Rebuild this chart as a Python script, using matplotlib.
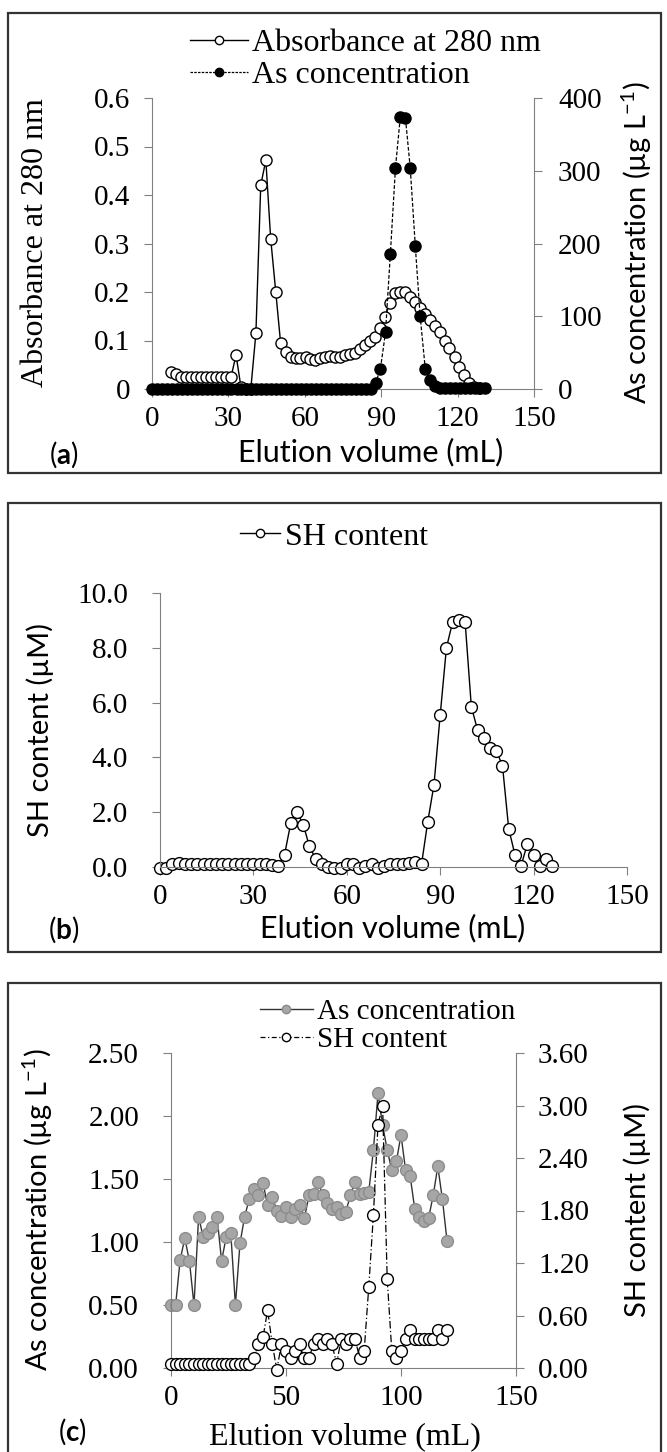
import matplotlib
matplotlib.use("Agg")
import matplotlib.pyplot as plt
from matplotlib.lines import Line2D
from matplotlib.patches import Rectangle
from matplotlib.ticker import FuncFormatter

SERIF = ["Liberation Serif", "DejaVu Serif"]
SANS = ["Lato", "DejaVu Sans"]
plt.rcParams["font.family"] = SERIF
plt.rcParams["mathtext.fontset"] = "custom"
plt.rcParams["mathtext.rm"] = "Lato"
plt.rcParams["mathtext.it"] = "Lato:italic"
plt.rcParams["mathtext.bf"] = "Lato:bold"

# ---- panel (a): absorbance and As concentration ----
vol_abs = [7.6, 9.6, 11.5, 13.5, 15.4, 17.4, 19.3, 21.3, 23.2, 25.2, 27.1, 29.1, 31.0,
           33.0, 34.9, 36.9, 38.8, 40.8, 42.7, 44.7, 46.6, 48.6, 50.5, 52.5, 54.4, 56.4,
           58.3, 60.3, 62.2, 64.2, 66.1, 68.1, 70.0, 72.0, 73.9, 75.9, 77.8, 79.8, 81.7,
           83.7, 85.6, 87.6, 89.5, 91.5, 93.4, 95.4, 97.3, 99.3, 101.2, 103.2, 105.1,
           107.1, 109.0, 111.0, 112.9, 114.9, 116.8, 118.8, 120.7, 122.7, 124.6, 126.6,
           128.5]
absorbance = [0.035, 0.030, 0.025, 0.024, 0.024, 0.024, 0.024, 0.024, 0.024, 0.024,
              0.024, 0.024, 0.024, 0.070, 0.005, 0.000, 0.000, 0.115, 0.420, 0.472,
              0.310, 0.200, 0.095, 0.077, 0.066, 0.064, 0.064, 0.065, 0.062, 0.060,
              0.064, 0.067, 0.068, 0.066, 0.065, 0.070, 0.072, 0.075, 0.082, 0.090,
              0.098, 0.108, 0.125, 0.148, 0.178, 0.197, 0.200, 0.200, 0.190, 0.180,
              0.168, 0.155, 0.143, 0.130, 0.117, 0.100, 0.085, 0.066, 0.045, 0.028,
              0.013, 0.005, 0.003]
vol_as = [0.0, 2.0, 3.9, 5.9, 7.8, 9.8, 11.7, 13.7, 15.6, 17.6, 19.5, 21.5, 23.4, 25.4,
          27.3, 29.3, 31.2, 33.2, 35.1, 37.1, 39.0, 41.0, 42.9, 44.9, 46.8, 48.8, 50.7,
          52.7, 54.6, 56.6, 58.5, 60.5, 62.4, 64.4, 66.3, 68.3, 70.2, 72.2, 74.1, 76.1,
          78.0, 80.0, 81.9, 83.9, 85.8, 87.8, 89.7, 91.7, 93.6, 95.6, 97.5, 99.5, 101.4,
          103.4, 105.3, 107.3, 109.2, 111.2, 113.1, 115.1, 117.0, 119.0, 120.9, 122.9,
          124.8, 126.8, 128.7, 130.7]
as_conc = [0, 0, 0, 0, 0, 0, 0, 0, 0, 0, 0, 0, 0, 0, 0, 0, 0, 0, 0, 0, 0, 0, 0, 0, 0,
           0, 0, 0, 0, 0, 0, 0, 0, 0, 0, 0, 0, 0, 0, 0, 0, 0, 0, 0, 0,
           8, 28, 78, 186, 304, 374, 373, 304, 196, 100, 28, 12, 4,
           1, 1, 1, 1, 1, 1, 1, 1, 1, 1]

# ---- panel (b): SH content ----
vol_sh = [0, 2, 4, 6, 8, 10, 12, 14, 16, 18, 20, 22, 24, 26, 28, 30, 32, 34, 36, 38,
          40, 42, 44, 46, 48, 50, 52, 54, 56, 58, 60, 62, 64, 66, 68, 70, 72, 74, 76,
          78, 80, 82, 84, 86, 88, 90, 92, 94, 96, 98, 100, 102, 104, 106, 108, 110,
          112, 114, 116, 118, 120, 122, 124, 126]
sh_content = [-0.05, -0.05, 0.12, 0.13, 0.10, 0.12, 0.10, 0.12, 0.10, 0.12, 0.10, 0.12,
              0.10, 0.12, 0.10, 0.12, 0.10, 0.10, 0.08, 0.05, 0.45, 1.60, 2.00, 1.55,
              0.75, 0.30, 0.10, 0.00, -0.05, -0.05, 0.10, 0.10, -0.05, 0.05, 0.10,
              -0.05, 0.05, 0.10, 0.12, 0.10, 0.15, 0.18, 0.10, 1.65, 3.00, 5.55, 8.00,
              8.95, 9.00, 8.95, 5.85, 5.00, 4.70, 4.35, 4.25, 3.70, 1.40, 0.45, 0.05,
              0.85, 0.45, 0.05, 0.30, 0.05]

# ---- panel (c): As concentration and SH content ----
vol_c = [0, 2, 4, 6, 8, 10, 12, 14, 16, 18, 20, 22, 24, 26, 28, 30, 32, 34, 36, 38, 40,
         42, 44, 46, 48, 50, 52, 54, 56, 58, 60, 62, 64, 66, 68, 70, 72, 74, 76, 78, 80,
         82, 84, 86, 88, 90, 92, 94, 96, 98, 100, 102, 104, 106, 108, 110, 112, 114,
         116, 118, 120]
as_c = [0.50, 0.50, 0.86, 1.03, 0.85, 0.50, 1.20, 1.04, 1.07, 1.12, 1.20, 0.85, 1.04,
        1.07, 0.50, 0.99, 1.20, 1.34, 1.42, 1.37, 1.47, 1.29, 1.36, 1.25, 1.21, 1.28,
        1.20, 1.26, 1.29, 1.19, 1.37, 1.38, 1.48, 1.37, 1.31, 1.26, 1.28, 1.22, 1.24,
        1.37, 1.48, 1.38, 1.39, 1.40, 1.73, 2.18, 1.93, 1.73, 1.57, 1.64, 1.85, 1.57,
        1.52, 1.26, 1.20, 1.17, 1.19, 1.37, 1.60, 1.34, 1.01]
sh_c = [0.05, 0.05, 0.05, 0.05, 0.05, 0.05, 0.05, 0.05, 0.05, 0.05, 0.05, 0.05, 0.05,
        0.05, 0.05, 0.05, 0.05, 0.05, 0.12, 0.27, 0.35, 0.66, 0.28, -0.02, 0.27, 0.20,
        0.12, 0.20, 0.27, 0.12, 0.12, 0.27, 0.33, 0.27, 0.33, 0.27, 0.05, 0.33, 0.27,
        0.33, 0.33, 0.12, 0.20, 0.93, 1.75, 2.78, 3.00, 1.02, 0.19, 0.12, 0.20, 0.33,
        0.43, 0.33, 0.33, 0.33, 0.33, 0.33, 0.43, 0.33, 0.43]

W, H = 667, 1452
fig = plt.figure(figsize=(W / 100, H / 100), dpi=100)
AXC = "#808080"
PT = 0.72  # points per pixel at 100 dpi


def box(l, t, r, b):
    return [l / W, 1 - b / H, (r - l) / W, (b - t) / H]


def fx(x):
    return x / W


def fy(y):
    return 1 - y / H


def frame(t, b):
    fig.patches.append(Rectangle((fx(8), fy(b)), fx(653), (b - t) / H, fill=False,
                                 edgecolor="#333333", lw=1.6, transform=fig.transFigure))


def style(ax, ypad, right=False):
    for s in ax.spines.values():
        s.set_visible(False)
    side = "right" if right else "left"
    ax.spines[side].set_visible(True)
    ax.spines[side].set_color(AXC)
    if not right:
        ax.spines["bottom"].set_visible(True)
        ax.spines["bottom"].set_color(AXC)
        ax.tick_params(axis="x", direction="out", length=8 * PT, color=AXC,
                       labelsize=21, pad=9 * PT)
    ax.tick_params(axis="y", direction="out", length=8 * PT, color=AXC,
                   labelsize=21, pad=ypad * PT)
    ax.patch.set_visible(False)


def fmt(f):
    return FuncFormatter(lambda v, p: f(v))


def key(x, y, handle, label, size, hl=1.8):
    fig.legend(handles=[handle], labels=[label], loc="center left",
               bbox_to_anchor=(fx(x), fy(y)), frameon=False, fontsize=size,
               handlelength=hl, handletextpad=0.15, borderpad=0, borderaxespad=0)


# ================= (a) =================
frame(13, 473)
ax1 = fig.add_axes(box(152, 98, 534, 389))
style(ax1, 14)
ax1.set_xlim(0, 150)
ax1.set_ylim(0, 0.6)
ax1.set_xticks([0, 30, 60, 90, 120, 150])
ax1.set_yticks([0, 0.1, 0.2, 0.3, 0.4, 0.5, 0.6])
ax1.yaxis.set_major_formatter(fmt(lambda v: "%g" % round(v, 2)))
ax1.plot(vol_abs, absorbance, color="k", lw=1, marker="o", ms=8, mfc="white",
         mec="k", mew=1, clip_on=False)
ax2 = ax1.twinx()
style(ax2, 16, right=True)
ax2.set_ylim(0, 400)
ax2.set_yticks([0, 100, 200, 300, 400])
ax2.plot(vol_as, as_conc, color="k", lw=0.9, ls=(0, (3, 1.5)), marker="o", ms=8,
         mfc="k", mec="k", clip_on=False)

key(190, 43, Line2D([], [], color="k", lw=1, marker="o", ms=6, mfc="white", mec="k"),
    "Absorbance at 280 nm", 23)
key(190, 75, Line2D([], [], color="k", lw=0.9, ls=(0, (2, 1)), marker="o", ms=6,
                    mfc="k"), "As concentration", 23)

fig.text(fx(36), fy(243), "Absorbance at 280 nm", rotation=90, ha="center",
         va="center", fontsize=23)
fig.text(fx(637), fy(243), "As concentration (µg L$^{\\mathregular{-1}}$)",
         rotation=90, ha="center", va="center", fontsize=21, family=SANS)
fig.text(fx(371), fy(452), "Elution volume (mL)", ha="center", va="center",
         fontsize=22, family=SANS)
fig.text(fx(64), fy(455), "($\\mathbf{a}$)", ha="center", va="center",
         fontsize=20, family=SANS)

# ================= (b) =================
frame(503, 952)
ax3 = fig.add_axes(box(160, 593, 627, 867))
style(ax3, 24)
ax3.set_xlim(0, 150)
ax3.set_ylim(0, 10)
ax3.set_xticks([0, 30, 60, 90, 120, 150])
ax3.set_yticks([0, 2, 4, 6, 8, 10])
ax3.yaxis.set_major_formatter(fmt(lambda v: "%.1f" % v))
ax3.plot(vol_sh, sh_content, color="k", lw=1, marker="o", ms=8.5, mfc="white",
         mec="k", mew=1, clip_on=False)

key(240, 537, Line2D([], [], color="k", lw=1, marker="o", ms=6, mfc="white", mec="k"),
    "SH content", 23, hl=1.25)

fig.text(fx(40), fy(730), "SH content (µM)", rotation=90, ha="center", va="center",
         fontsize=21, family=SANS)
fig.text(fx(393), fy(928), "Elution volume (mL)", ha="center", va="center",
         fontsize=22, family=SANS)
fig.text(fx(64), fy(930), "($\\mathbf{b}$)", ha="center", va="center",
         fontsize=20, family=SANS)

# ================= (c) =================
frame(983, 1480)
ax4 = fig.add_axes(box(171, 1053, 516, 1368))
style(ax4, 24)
ax4.set_xlim(0, 150)
ax4.set_ylim(0, 2.5)
ax4.set_xticks([0, 50, 100, 150])
ax4.set_yticks([0, 0.5, 1.0, 1.5, 2.0, 2.5])
ax4.yaxis.set_major_formatter(fmt(lambda v: "%.2f" % v))
ax4.plot(vol_c, as_c, color="#333333", lw=1, marker="o", ms=8.5, mfc="#a6a6a6",
         mec="#8c8c8c", mew=1, clip_on=False)
ax5 = ax4.twinx()
style(ax5, 14, right=True)
ax5.set_ylim(0, 3.6)
ax5.set_yticks([0, 0.6, 1.2, 1.8, 2.4, 3.0, 3.6])
ax5.yaxis.set_major_formatter(fmt(lambda v: "%.2f" % v))
ax5.plot(vol_c, sh_c, color="k", lw=0.9, ls=(0, (6, 2, 1, 2)), marker="o", ms=8.5,
         mfc="white", mec="k", mew=1, clip_on=False)

key(260, 1012, Line2D([], [], color="#333333", lw=1, marker="o", ms=6,
                      mfc="#a6a6a6", mec="#8c8c8c"), "As concentration", 21)
key(260, 1040, Line2D([], [], color="k", lw=0.9, ls=(0, (4, 2, 1, 2)), marker="o",
                      ms=6, mfc="white", mec="k"), "SH content", 21)

fig.text(fx(38), fy(1210), "As concentration (µg L$^{\\mathregular{-1}}$)",
         rotation=90, ha="center", va="center", fontsize=21, family=SANS)
fig.text(fx(637), fy(1210), "SH content (µM)", rotation=90, ha="center",
         va="center", fontsize=21, family=SANS)
fig.text(fx(345), fy(1437), "Elution volume (mL)", ha="center", va="center",
         fontsize=23)
fig.text(fx(72), fy(1432), "($\\mathbf{c}$)", ha="center", va="center",
         fontsize=20, family=SANS)

fig.savefig("out.png", dpi=100, facecolor="white")
